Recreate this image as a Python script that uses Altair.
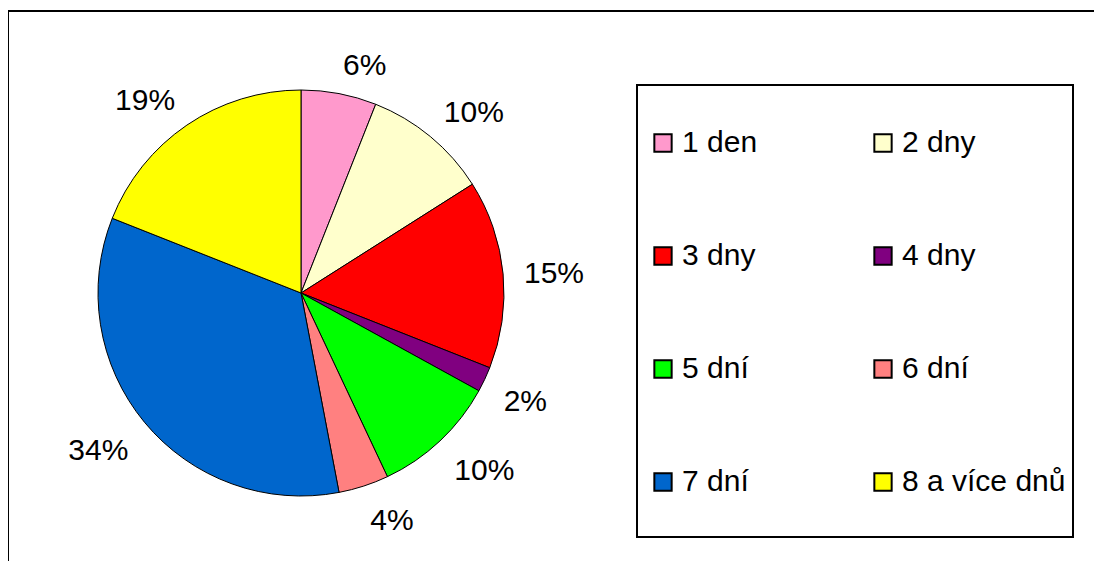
import math
import altair as alt
import pandas as pd

categories = ["1 den", "2 dny", "3 dny", "4 dny", "5 dní", "6 dní", "7 dní", "8 a více dnů"]
values = [6, 10, 15, 2, 10, 4, 34, 19]
labels = ["6%", "10%", "15%", "2%", "10%", "4%", "34%", "19%"]
colors = ["#FF99CC", "#FFFFCC", "#FF0000", "#800080", "#00FF00", "#FF8080", "#0066CC", "#FFFF00"]

df = pd.DataFrame({
    "kategorie": categories,
    "hodnota": values,
    "popisek": labels,
    "poradi": list(range(len(categories))),
})

FONT = "Liberation Sans"
FS = 30
cx, cy, R = 293, 285, 203
R0 = 224  # distance of the label box corner from the centre
TAU = 2 * math.pi

pie = alt.Chart(df).mark_arc(stroke="black", strokeWidth=1).encode(
    theta=alt.Theta("hodnota:Q", stack=True),
    order=alt.Order("poradi:Q"),
    x=alt.value(cx),
    y=alt.value(cy),
    radius=alt.value(R),
    color=alt.Color(
        "kategorie:N",
        scale=alt.Scale(domain=categories, range=colors),
        sort=categories,
        legend=alt.Legend(
            title=None,
            orient="none",
            direction="horizontal",
            legendX=640,
            legendY=120,
            columns=2,
            columnPadding=110,
            rowPadding=83,
            symbolType="square",
            symbolSize=300,
            symbolStrokeColor="black",
            symbolStrokeWidth=2,
            labelFont=FONT,
            labelFontSize=FS,
            labelColor="black",
            labelOffset=4,
            labelLimit=400,
            padding=0,
        ),
    ),
)

# Excel-like label placement: the nearest corner of each label box sits just outside the pie
text = (
    alt.Chart(df)
    .transform_joinaggregate(celkem="sum(hodnota)")
    .transform_window(kum="sum(hodnota)", sort=[alt.SortField("poradi")], frame=[None, 0])
    .transform_calculate(th=f"{TAU}*(datum.kum - datum.hodnota/2)/datum.celkem")
    .transform_calculate(
        hw=f"({FS}*0.556*(length(datum.popisek)-1) + {FS}*0.889)/2",
        s="sin(datum.th)",
        c="cos(datum.th)",
    )
    .transform_calculate(
        lx=f"{R0}*datum.s + (datum.s >= 0 ? 1 : -1)*datum.hw",
        ly=f"-{R0}*datum.c - 11*clamp(2*datum.c, -1, 1)",
    )
    .transform_calculate(
        rl="sqrt(datum.lx*datum.lx + datum.ly*datum.ly)",
        phi=f"(atan2(datum.lx, -datum.ly) + {TAU}) % {TAU}",
    )
    .mark_text(font=FONT, fontSize=FS, color="black", dy=4)
    .encode(
        theta=alt.Theta("phi:Q", scale=alt.Scale(domain=[0, TAU], range=[0, TAU])),
        radius=alt.Radius("rl:Q", scale=None),
        x=alt.value(cx),
        y=alt.value(cy),
        text="popisek:N",
    )
)

one = pd.DataFrame({"a": [0]})
frame = alt.Chart(one).mark_rect(fillOpacity=0, stroke="black", strokeWidth=2).encode(
    x=alt.value(0), x2=alt.value(1300), y=alt.value(3), y2=alt.value(800)
)
legend_frame = alt.Chart(one).mark_rect(fillOpacity=0, stroke="black", strokeWidth=2).encode(
    x=alt.value(629), x2=alt.value(1065), y=alt.value(77), y2=alt.value(529)
)

chart = (
    alt.layer(frame, legend_frame, pie, text)
    .resolve_scale(theta="independent", radius="independent")
    .properties(
        width=1086,
        height=553,
        autosize=alt.AutoSizeParams(type="none"),
        padding=0,
    )
    .configure_view(stroke=None)
)

chart.save("out.html", embed_options={"renderer": "svg", "actions": False})
